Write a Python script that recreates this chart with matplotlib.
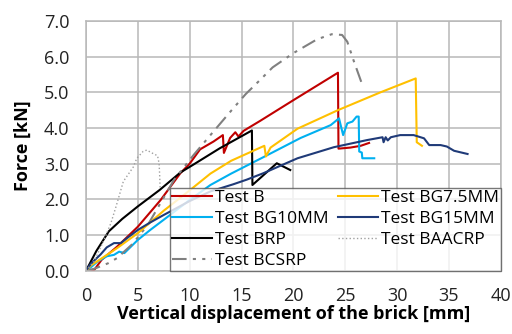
import matplotlib
matplotlib.use("Agg")
import matplotlib.pyplot as plt

plt.rcParams['font.family'] = ['Open Sans', 'DejaVu Sans']

# ---- data (displacement [mm], force [kN]) ----
b_x = [0.3, 0.8, 1.5, 3.0, 5.0, 7.2, 9.1, 10.0, 11.0, 12.3, 13.2, 13.3, 13.9, 14.4,
       14.7, 15.2, 16.8, 20.0, 24.3, 24.35, 25.5, 26.5, 27.3]
b_y = [0.0, 0.02, 0.3, 0.67, 1.23, 1.98, 2.73, 3.0, 3.4, 3.62, 3.8, 3.3, 3.72, 3.88,
       3.76, 3.92, 4.2, 4.78, 5.55, 3.42, 3.45, 3.5, 3.58]

bg75_x = [0.0, 0.5, 1.4, 3.0, 5.0, 7.5, 10.0, 12.0, 14.0, 17.2, 17.35, 17.8, 20.4,
          24.3, 28.4, 31.8, 31.9, 32.4]
bg75_y = [0.0, 0.15, 0.32, 0.63, 1.05, 1.68, 2.25, 2.72, 3.08, 3.5, 3.2, 3.45, 3.98,
          4.5, 5.0, 5.39, 3.6, 3.5]

bg10_x = [0.0, 0.5, 1.1, 2.0, 2.7, 3.2, 3.7, 5.0, 6.2, 7.7, 10.0, 12.0, 14.0, 17.1,
          20.7, 23.6, 24.4, 24.8, 25.2, 25.7, 26.1, 26.3, 26.35, 26.6, 26.65, 27.8]
bg10_y = [0.0, 0.1, 0.25, 0.4, 0.44, 0.53, 0.49, 0.86, 1.14, 1.47, 1.98, 2.4, 2.72,
          3.18, 3.72, 4.08, 4.27, 3.8, 4.13, 4.18, 4.32, 4.32, 3.34, 3.31, 3.15, 3.15]

bg15_x = [0.0, 0.5, 1.4, 2.0, 2.7, 3.35, 4.0, 5.0, 6.2, 7.5, 10.0, 12.0, 14.2, 15.5,
          17.1, 20.4, 23.9, 27.1, 28.6, 28.7, 28.9, 29.1, 29.4, 30.3, 31.6, 32.6,
          33.1, 34.2, 34.8, 35.5, 36.8]
bg15_y = [0.0, 0.2, 0.45, 0.65, 0.77, 0.77, 0.92, 1.14, 1.35, 1.56, 1.95, 2.22, 2.42,
          2.55, 2.73, 3.15, 3.46, 3.66, 3.74, 3.6, 3.74, 3.65, 3.74, 3.8, 3.8, 3.71,
          3.52, 3.52, 3.48, 3.36, 3.27]

brp_x = [0.0, 0.3, 1.0, 2.2, 3.5, 5.0, 7.1, 9.1, 10.4, 12.9, 16.0, 16.05, 18.4, 19.7]
brp_y = [0.0, 0.16, 0.55, 1.1, 1.45, 1.8, 2.26, 2.75, 2.98, 3.43, 3.93, 2.4, 3.01, 2.82]

baacrp_x = [0.0, 0.77, 1.74, 2.4, 2.9, 3.6, 4.55, 4.9, 5.5, 5.86, 6.35, 6.9, 7.05,
            7.1, 7.15]
baacrp_y = [0.0, 0.25, 0.86, 1.33, 1.8, 2.5, 2.9, 3.15, 3.34, 3.38, 3.3, 3.22, 3.0,
            2.7, 2.3]

bcsrp_x = [0.0, 0.8, 2.1, 3.0, 4.5, 6.0, 7.2, 8.5, 10.4, 12.0, 13.9, 15.4, 16.8,
           18.0, 20.0, 22.3, 23.7, 24.7, 25.2, 25.8, 26.6]
bcsrp_y = [0.0, 0.05, 0.2, 0.35, 0.75, 1.3, 1.9, 2.55, 3.25, 3.8, 4.45, 4.95, 5.35,
           5.7, 6.1, 6.49, 6.63, 6.61, 6.42, 5.9, 5.25]

x_ticks = [0, 5, 10, 15, 20, 25, 30, 35, 40]
y_ticks = [0.0, 1.0, 2.0, 3.0, 4.0, 5.0, 6.0, 7.0]

fig = plt.figure(figsize=(5.12, 3.34), dpi=100)
ax = fig.add_axes([0.168, 0.19, 0.81, 0.747])

lw = 1.5
ax.plot(b_x, b_y, color='#C00000', lw=lw, label='Test B')
ax.plot(bg10_x, bg10_y, color='#00B0F0', lw=lw, label='Test BG10MM')
ax.plot(brp_x, brp_y, color='#000000', lw=lw, label='Test BRP')
ax.plot(bcsrp_x, bcsrp_y, color='#808080', lw=lw, dashes=(7, 3, 1.5, 3, 1.5, 3),
        label='Test BCSRP')
ax.plot(bg75_x, bg75_y, color='#FFC000', lw=lw, label='Test BG7.5MM')
ax.plot(bg15_x, bg15_y, color='#1F3A78', lw=lw, label='Test BG15MM')
ax.plot(baacrp_x, baacrp_y, color='#A0A0A0', lw=1.0, linestyle=':',
        label='Test BAACRP')

ax.set_xlim(0, 40)
ax.set_ylim(0, 7)
ax.set_xticks(x_ticks)
ax.set_yticks(y_ticks)
ax.set_yticklabels([f'{v:.1f}' for v in y_ticks])
ax.tick_params(length=0, labelsize=13, colors='#222222', pad=12)
ax.tick_params(axis='x', pad=12)
ax.grid(True, color='#B8B8B8', lw=1.1)
ax.set_axisbelow(True)
for s in ax.spines.values():
    s.set_color('#B8B8B8')
    s.set_linewidth(1.1)

ax.set_xlabel('Vertical displacement of the brick [mm]', fontsize=13,
              fontweight='bold', labelpad=0)
ax.set_ylabel('Force [kN]', fontsize=13, fontweight='bold', labelpad=9)

leg = ax.legend(loc='lower left', bbox_to_anchor=(0.203, 0.0, 0.797, 0.351),
                mode='expand', ncol=2, fontsize=12.5, frameon=True, fancybox=False,
                borderaxespad=0, handlelength=2.3, handletextpad=0.2,
                labelspacing=0.28, borderpad=0.1, columnspacing=0.6)
leg.get_frame().set_edgecolor('#555555')
leg.get_frame().set_linewidth(1.0)

plt.savefig('out.png', dpi=100)
